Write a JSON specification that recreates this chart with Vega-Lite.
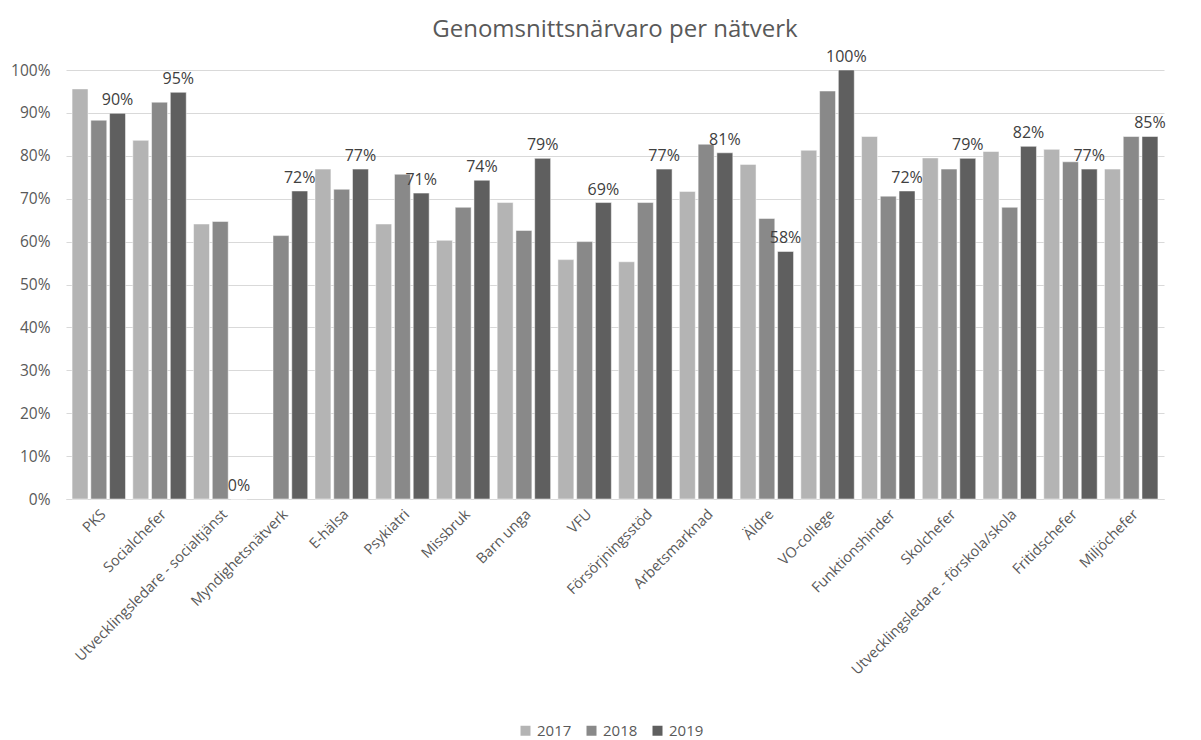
{
  "$schema": "https://vega.github.io/schema/vega-lite/v6.json",
  "width": 1098,
  "height": 429,
  "padding": {"left": 10, "top": 18, "right": 34, "bottom": 5},
  "background": "white",
  "title": {"text": "Genomsnittsnärvaro per nätverk", "fontSize": 24, "font": "Open Sans", "fontWeight": "normal", "color": "#595959", "offset": 7},
  "data": {"values": [
    {"network": "PKS", "year": "2017", "value": 0.956},
    {"network": "PKS", "year": "2018", "value": 0.883},
    {"network": "PKS", "year": "2019", "value": 0.899},
    {"network": "Socialchefer", "year": "2017", "value": 0.836},
    {"network": "Socialchefer", "year": "2018", "value": 0.925},
    {"network": "Socialchefer", "year": "2019", "value": 0.948},
    {"network": "Utvecklingsledare - socialtjänst", "year": "2017", "value": 0.641},
    {"network": "Utvecklingsledare - socialtjänst", "year": "2018", "value": 0.647},
    {"network": "Utvecklingsledare - socialtjänst", "year": "2019", "value": 0.0},
    {"network": "Myndighetsnätverk", "year": "2018", "value": 0.614},
    {"network": "Myndighetsnätverk", "year": "2019", "value": 0.718},
    {"network": "E-hälsa", "year": "2017", "value": 0.769},
    {"network": "E-hälsa", "year": "2018", "value": 0.722},
    {"network": "E-hälsa", "year": "2019", "value": 0.769},
    {"network": "Psykiatri", "year": "2017", "value": 0.641},
    {"network": "Psykiatri", "year": "2018", "value": 0.757},
    {"network": "Psykiatri", "year": "2019", "value": 0.713},
    {"network": "Missbruk", "year": "2017", "value": 0.603},
    {"network": "Missbruk", "year": "2018", "value": 0.68},
    {"network": "Missbruk", "year": "2019", "value": 0.743},
    {"network": "Barn unga", "year": "2017", "value": 0.691},
    {"network": "Barn unga", "year": "2018", "value": 0.626},
    {"network": "Barn unga", "year": "2019", "value": 0.794},
    {"network": "VFU", "year": "2017", "value": 0.558},
    {"network": "VFU", "year": "2018", "value": 0.6},
    {"network": "VFU", "year": "2019", "value": 0.691},
    {"network": "Försörjningsstöd", "year": "2017", "value": 0.553},
    {"network": "Försörjningsstöd", "year": "2018", "value": 0.691},
    {"network": "Försörjningsstöd", "year": "2019", "value": 0.769},
    {"network": "Arbetsmarknad", "year": "2017", "value": 0.717},
    {"network": "Arbetsmarknad", "year": "2018", "value": 0.827},
    {"network": "Arbetsmarknad", "year": "2019", "value": 0.807},
    {"network": "Äldre", "year": "2017", "value": 0.78},
    {"network": "Äldre", "year": "2018", "value": 0.654},
    {"network": "Äldre", "year": "2019", "value": 0.577},
    {"network": "VO-college", "year": "2017", "value": 0.813},
    {"network": "VO-college", "year": "2018", "value": 0.951},
    {"network": "VO-college", "year": "2019", "value": 1.0},
    {"network": "Funktionshinder", "year": "2017", "value": 0.845},
    {"network": "Funktionshinder", "year": "2018", "value": 0.706},
    {"network": "Funktionshinder", "year": "2019", "value": 0.718},
    {"network": "Skolchefer", "year": "2017", "value": 0.795},
    {"network": "Skolchefer", "year": "2018", "value": 0.769},
    {"network": "Skolchefer", "year": "2019", "value": 0.794},
    {"network": "Utvecklingsledare - förskola/skola", "year": "2017", "value": 0.81},
    {"network": "Utvecklingsledare - förskola/skola", "year": "2018", "value": 0.68},
    {"network": "Utvecklingsledare - förskola/skola", "year": "2019", "value": 0.822},
    {"network": "Fritidschefer", "year": "2017", "value": 0.815},
    {"network": "Fritidschefer", "year": "2018", "value": 0.786},
    {"network": "Fritidschefer", "year": "2019", "value": 0.769},
    {"network": "Miljöchefer", "year": "2017", "value": 0.769},
    {"network": "Miljöchefer", "year": "2018", "value": 0.845},
    {"network": "Miljöchefer", "year": "2019", "value": 0.845}
  ]},
  "encoding": {
    "x": {
      "field": "network", "type": "nominal", "sort": null, "title": null,
      "scale": {"paddingInner": 0.12, "paddingOuter": 0.1},
      "axis": {"labelAngle": -45, "labelFontSize": 14.5, "labelFont": "Open Sans", "labelColor": "#595959", "ticks": false, "domainColor": "#d9d9d9", "labelPadding": 8, "labelLimit": 400}
    },
    "xOffset": {"field": "year", "type": "nominal", "scale": {"paddingInner": 0.15}},
    "y": {
      "field": "value", "type": "quantitative", "title": null,
      "scale": {"domain": [0, 1]},
      "axis": {"format": ".0%", "values": [0, 0.1, 0.2, 0.3, 0.4, 0.5, 0.6, 0.7, 0.8, 0.9, 1.0], "labelOverlap": false, "labelFontSize": 15.5, "labelFont": "Open Sans", "labelColor": "#595959", "ticks": false, "domain": false, "gridColor": "#d9d9d9", "labelPadding": 16}
    }
  },
  "layer": [
    {
      "mark": {"type": "bar", "stroke": "white", "strokeWidth": 0.5},
      "encoding": {
        "color": {
          "field": "year", "type": "nominal", "title": null,
          "scale": {"domain": ["2017", "2018", "2019"], "range": ["#b4b4b4", "#898989", "#5f5f5f"]},
          "legend": {"orient": "none", "legendX": 452, "legendY": 653, "direction": "horizontal", "symbolType": "square", "symbolSize": 100, "symbolStrokeWidth": 0, "labelFontSize": 15, "labelFont": "Open Sans", "labelColor": "#595959", "labelOffset": 4, "columnPadding": 12}
        }
      }
    },
    {
      "transform": [{"filter": "datum.year === '2019'"}],
      "mark": {"type": "text", "dy": -13, "fontSize": 16, "font": "Open Sans", "color": "#404040"},
      "encoding": {
        "text": {"field": "value", "type": "quantitative", "format": ".0%"}
      }
    }
  ],
  "config": {"view": {"stroke": null}}
}
